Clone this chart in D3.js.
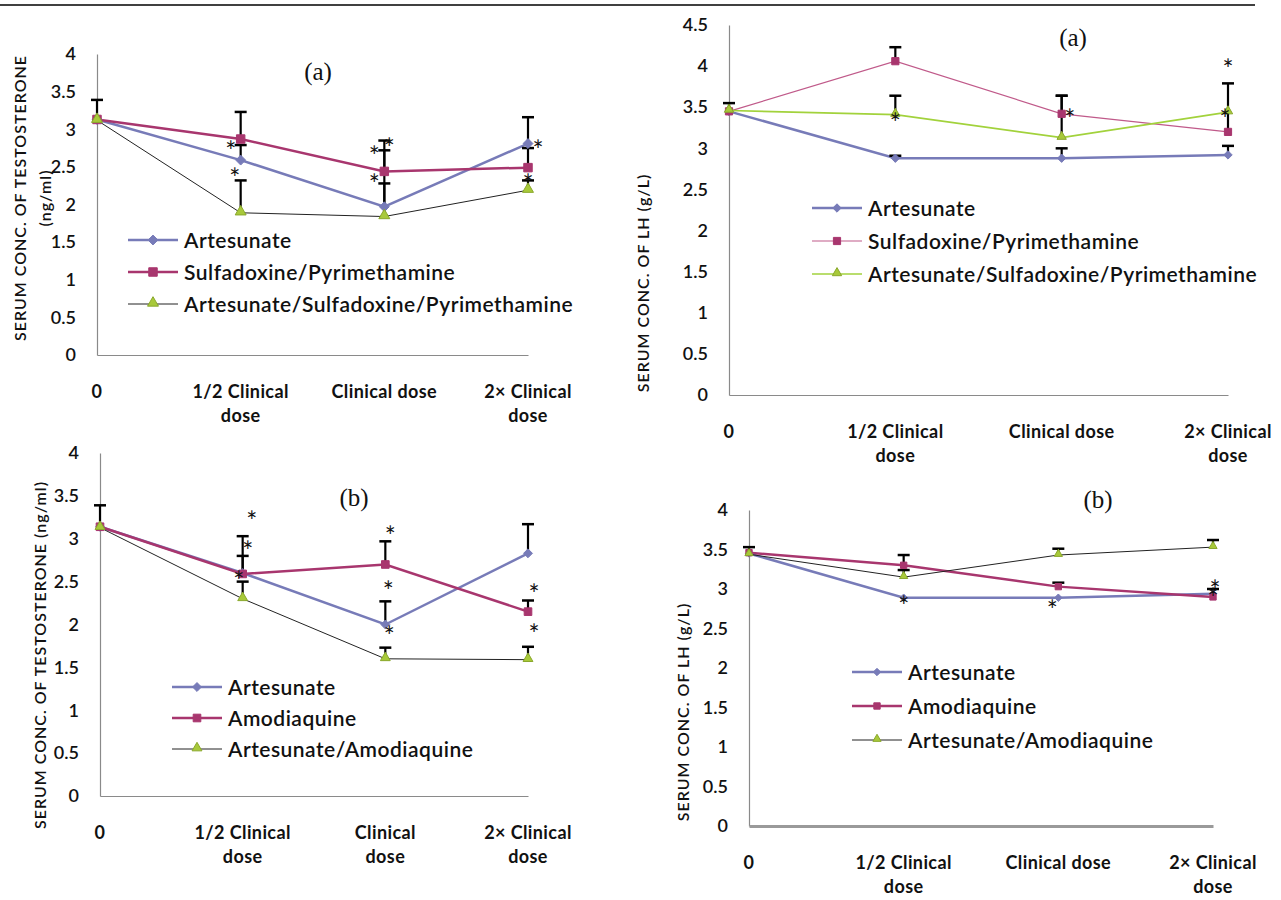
<!DOCTYPE html>
<html>
<head>
<meta charset="utf-8">
<script src="https://cdn.jsdelivr.net/npm/d3@7"></script>
<style>
  body { margin: 0; background: #fff; }
  svg text { font-family: Lato, "Open Sans", sans-serif; fill: #111; }
  .ytick text { font-size: 18px; font-weight: 600; }
  .xlab { font-size: 18px; font-weight: 700; letter-spacing: 0.4px; }
  .ylab { font-size: 16px; font-weight: 600; letter-spacing: 1px; }
  .leg { font-size: 21px; font-weight: 600; letter-spacing: 0.5px; }
  .ttl { font-family: "Liberation Serif", serif; font-size: 25px; }
  .star { font-size: 26px; font-weight: 400; }
</style>
</head>
<body>
<svg id="chart" width="1281" height="900"></svg>
<script>
// categories
var doses = ["0", "1/2 Clinical dose", "Clinical dose", "2× Clinical dose"];
var doseLinesA = [["0"], ["1/2 Clinical", "dose"], ["Clinical dose"], ["2× Clinical", "dose"]];
var doseLinesB = [["0"], ["1/2 Clinical", "dose"], ["Clinical", "dose"], ["2× Clinical", "dose"]];
var ticks40 = [0, 0.5, 1, 1.5, 2, 2.5, 3, 3.5, 4];
var ticks45 = [0, 0.5, 1, 1.5, 2, 2.5, 3, 3.5, 4, 4.5];

var namesSP = ["Artesunate", "Sulfadoxine/Pyrimethamine", "Artesunate/Sulfadoxine/Pyrimethamine"];
var namesAQ = ["Artesunate", "Amodiaquine", "Artesunate/Amodiaquine"];

// testosterone (a)
var testoA_art = [3.13, 2.59, 1.97, 2.81];
var testoA_sp  = [3.13, 2.87, 2.44, 2.49];
var testoA_asp = [3.12, 1.89, 1.84, 2.19];
var testoA_artErr = [null, 2.79, 2.72, 3.16];
var testoA_spErr  = [3.39, 3.23, 2.85, 2.75];
var testoA_aspErr = [null, 2.32, 2.28, 2.32];
var testoA_stars = [[1, 2.79, -1], [1, 2.43, -0.6], [2, 2.72, -1], [2, 2.83, 0.5], [2, 2.35, -1], [3, 2.81, 1], [3, 2.35, 0]];

// LH (a)
var lhA_art = [3.45, 2.88, 2.88, 2.92];
var lhA_sp  = [3.45, 4.06, 3.42, 3.2];
var lhA_asp = [3.46, 3.41, 3.13, 3.44];
var lhA_artErr = [null, 2.91, 3.0, 3.03];
var lhA_spErr  = [3.55, 4.23, 3.64, 3.79];
var lhA_aspErr = [null, 3.64, 3.64, null];
var lhA_stars = [[1, 3.38, 0], [2, 3.43, 0.8], [3, 4.04, 0], [3, 3.43, -0.3]];

// testosterone (b)
var testoB_art = [3.14, 2.6, 2.0, 2.83];
var testoB_aq  = [3.14, 2.59, 2.7, 2.15];
var testoB_aa  = [3.13, 2.3, 1.6, 1.59];
var testoB_artErr = [null, 2.8, 2.27, 3.17];
var testoB_aqErr  = [3.39, 3.03, 2.97, 2.28];
var testoB_aaErr  = [null, 2.5, 1.73, 1.74];
var testoB_stars = [[1, 3.28, 0.9], [1, 2.93, 0.5], [1, 2.58, -0.4], [2, 3.1, 0.5], [2, 2.46, 0.3], [2, 1.94, 0.4], [3, 2.43, 0.6], [3, 1.96, 0.6]];

// LH (b)
var lhB_art = [3.45, 2.89, 2.89, 2.94];
var lhB_aq  = [3.46, 3.3, 3.03, 2.9];
var lhB_aa  = [3.44, 3.15, 3.43, 3.53];
var lhB_artErr = [null, null, null, 3.0];
var lhB_aqErr  = [3.53, 3.43, 3.08, null];
var lhB_aaErr  = [null, 3.24, 3.51, 3.62];
var lhB_stars = [[1, 2.86, 0], [2, 2.81, -0.6], [3, 2.96, 0], [3, 3.06, 0.2]];

var svg = d3.select("#chart");

svg.append("line").attr("x1", 0).attr("x2", 1255).attr("y1", 5).attr("y2", 5)
  .attr("stroke", "#000").attr("stroke-width", 1.5);

var purple = "#777bb8", magenta = "#a8366e", greenFill = "#a8c93a", greenStroke = "#8aa82c";

var panels = [
  { xr: [97, 528], yr: [355, 54], max: 4, ticks: ticks40, labels: doseLinesA, names: namesSP,
    series: [testoA_art, testoA_sp, testoA_asp], errs: [testoA_artErr, testoA_spErr, testoA_aspErr], stars: testoA_stars,
    lineColors: [purple, magenta, "#222"], widths: [2.5, 2.5, 1], msize: 1,
    title: "(a)", tx: 318, ty: 80, leg: [128, 240, 32],
    ylab: ["SERUM CONC. OF  TESTOSTERONE", "(ng/ml)"], ylx: [20, 45], yly: 198 },
  { xr: [729, 1228], yr: [395, 25], max: 4.5, ticks: ticks45, labels: doseLinesA, names: namesSP,
    series: [lhA_art, lhA_sp, lhA_asp], errs: [lhA_artErr, lhA_spErr, lhA_aspErr], stars: lhA_stars,
    lineColors: [purple, "#c05a8a", "#a2d23c"], widths: [2.5, 1.2, 1.6], msize: 0.85,
    title: "(a)", tx: 1073, ty: 46, leg: [812, 208, 33],
    ylab: ["SERUM CONC. OF  LH  (g/L)"], ylx: [643], yly: 283 },
  { xr: [100, 528], yr: [796, 453], max: 4, ticks: ticks40, labels: doseLinesB, names: namesAQ,
    series: [testoB_art, testoB_aq, testoB_aa], errs: [testoB_artErr, testoB_aqErr, testoB_aaErr], stars: testoB_stars,
    lineColors: [purple, magenta, "#222"], widths: [2.5, 2.5, 1], msize: 0.9,
    title: "(b)", tx: 354, ty: 506, leg: [172, 687, 31],
    ylab: ["SERUM  CONC.  OF   TESTOSTERONE (ng/ml)"], ylx: [40], yly: 655 },
  { xr: [749, 1213], yr: [826, 510], max: 4, ticks: ticks40, labels: doseLinesA, names: namesAQ,
    series: [lhB_art, lhB_aq, lhB_aa], errs: [lhB_artErr, lhB_aqErr, lhB_aaErr], stars: lhB_stars,
    lineColors: [purple, magenta, "#222"], widths: [2.5, 2.5, 1], msize: 0.75,
    title: "(b)", tx: 1098, ty: 508, leg: [852, 672, 34], thickX: true,
    ylab: ["SERUM CONC. OF  LH  (g/L)"], ylx: [683], yly: 712 }
];

var shapes = [d3.symbolDiamond2, d3.symbolSquare, d3.symbolTriangle];
var shapeSize = [62, 72, 52];
var fills = [purple, magenta, greenFill];
var strokes = [purple, magenta, greenStroke];

function marker(g, i, cx, cy, k) {
  g.append("path")
    .attr("d", d3.symbol().type(shapes[i]).size(shapeSize[i] * k * k)())
    .attr("transform", "translate(" + cx + "," + (i == 2 ? cy - 1 : cy) + ")")
    .attr("fill", fills[i]).attr("stroke", strokes[i]).attr("stroke-width", 1);
}

panels.forEach(function(p) {
  var g = svg.append("g");
  var x = d3.scalePoint().domain(doses).range(p.xr);
  var y = d3.scaleLinear().domain([0, p.max]).range(p.yr);

  // y axis
  var ya = g.append("g").attr("class", "ytick")
    .attr("transform", "translate(" + p.xr[0] + ",0)")
    .call(d3.axisLeft(y).tickValues(p.ticks).tickSize(0).tickPadding(21).tickFormat(d3.format("~g")));
  ya.select(".domain").attr("stroke", "#8a8a8a").attr("stroke-width", 1.2);

  // x axis
  var xa = g.append("g").attr("transform", "translate(0," + p.yr[0] + ")")
    .call(d3.axisBottom(x).tickSize(0).tickFormat(""));
  xa.select(".domain").attr("stroke", p.thickX ? "#9a9a9a" : "#8a8a8a").attr("stroke-width", p.thickX ? 3 : 1.2);

  doses.forEach(function(d, i) {
    var t = g.append("text").attr("class", "xlab").attr("text-anchor", "middle")
      .attr("x", x(d)).attr("y", p.yr[0] + 43);
    p.labels[i].forEach(function(s, j) {
      t.append("tspan").attr("x", x(d)).attr("dy", j ? 24 : 0).text(s);
    });
  });

  // y label
  p.ylab.forEach(function(s, j) {
    g.append("text").attr("class", "ylab").attr("text-anchor", "middle")
      .attr("transform", "translate(" + p.ylx[j] + "," + p.yly + ") rotate(-90)")
      .attr("dy", "0.35em").text(s);
  });

  // title
  g.append("text").attr("class", "ttl").attr("text-anchor", "middle")
    .attr("x", p.tx).attr("y", p.ty).text(p.title);

  // lines
  p.series.forEach(function(vals, s) {
    g.append("path").datum(vals)
      .attr("fill", "none").attr("stroke", p.lineColors[s]).attr("stroke-width", p.widths[s])
      .attr("d", d3.line().x(function(d, i) { return x(doses[i]); }).y(function(d) { return y(d); }));
  });

  // error bars
  p.errs.forEach(function(errs, s) {
    errs.forEach(function(e, i) {
      if (e == null) return;
      var cx = x(doses[i]);
      g.append("line").attr("x1", cx).attr("x2", cx).attr("y1", y(p.series[s][i])).attr("y2", y(e))
        .attr("stroke", "#000").attr("stroke-width", 2.2);
      g.append("line").attr("x1", cx - 6).attr("x2", cx + 6).attr("y1", y(e)).attr("y2", y(e))
        .attr("stroke", "#000").attr("stroke-width", 2.5);
    });
  });

  // markers
  p.series.forEach(function(vals, s) {
    vals.forEach(function(v, i) { marker(g, s, x(doses[i]), y(v), p.msize); });
  });

  // significance stars
  p.stars.forEach(function(st) {
    g.append("text").attr("class", "star").attr("text-anchor", "middle")
      .attr("x", x(doses[st[0]]) + st[2] * 10).attr("y", y(st[1]))
      .attr("dy", "0.62em").text("*");
  });

  // legend
  p.names.forEach(function(n, s) {
    var ly = p.leg[1] + s * p.leg[2], lx = p.leg[0];
    g.append("line").attr("x1", lx).attr("x2", lx + 50).attr("y1", ly).attr("y2", ly)
      .attr("stroke", p.lineColors[s]).attr("stroke-width", p.widths[s]);
    marker(g, s, lx + 25, ly, p.msize);
    g.append("text").attr("class", "leg").attr("x", lx + 56).attr("y", ly).attr("dy", "0.36em").text(n);
  });
});
</script>
</body>
</html>
